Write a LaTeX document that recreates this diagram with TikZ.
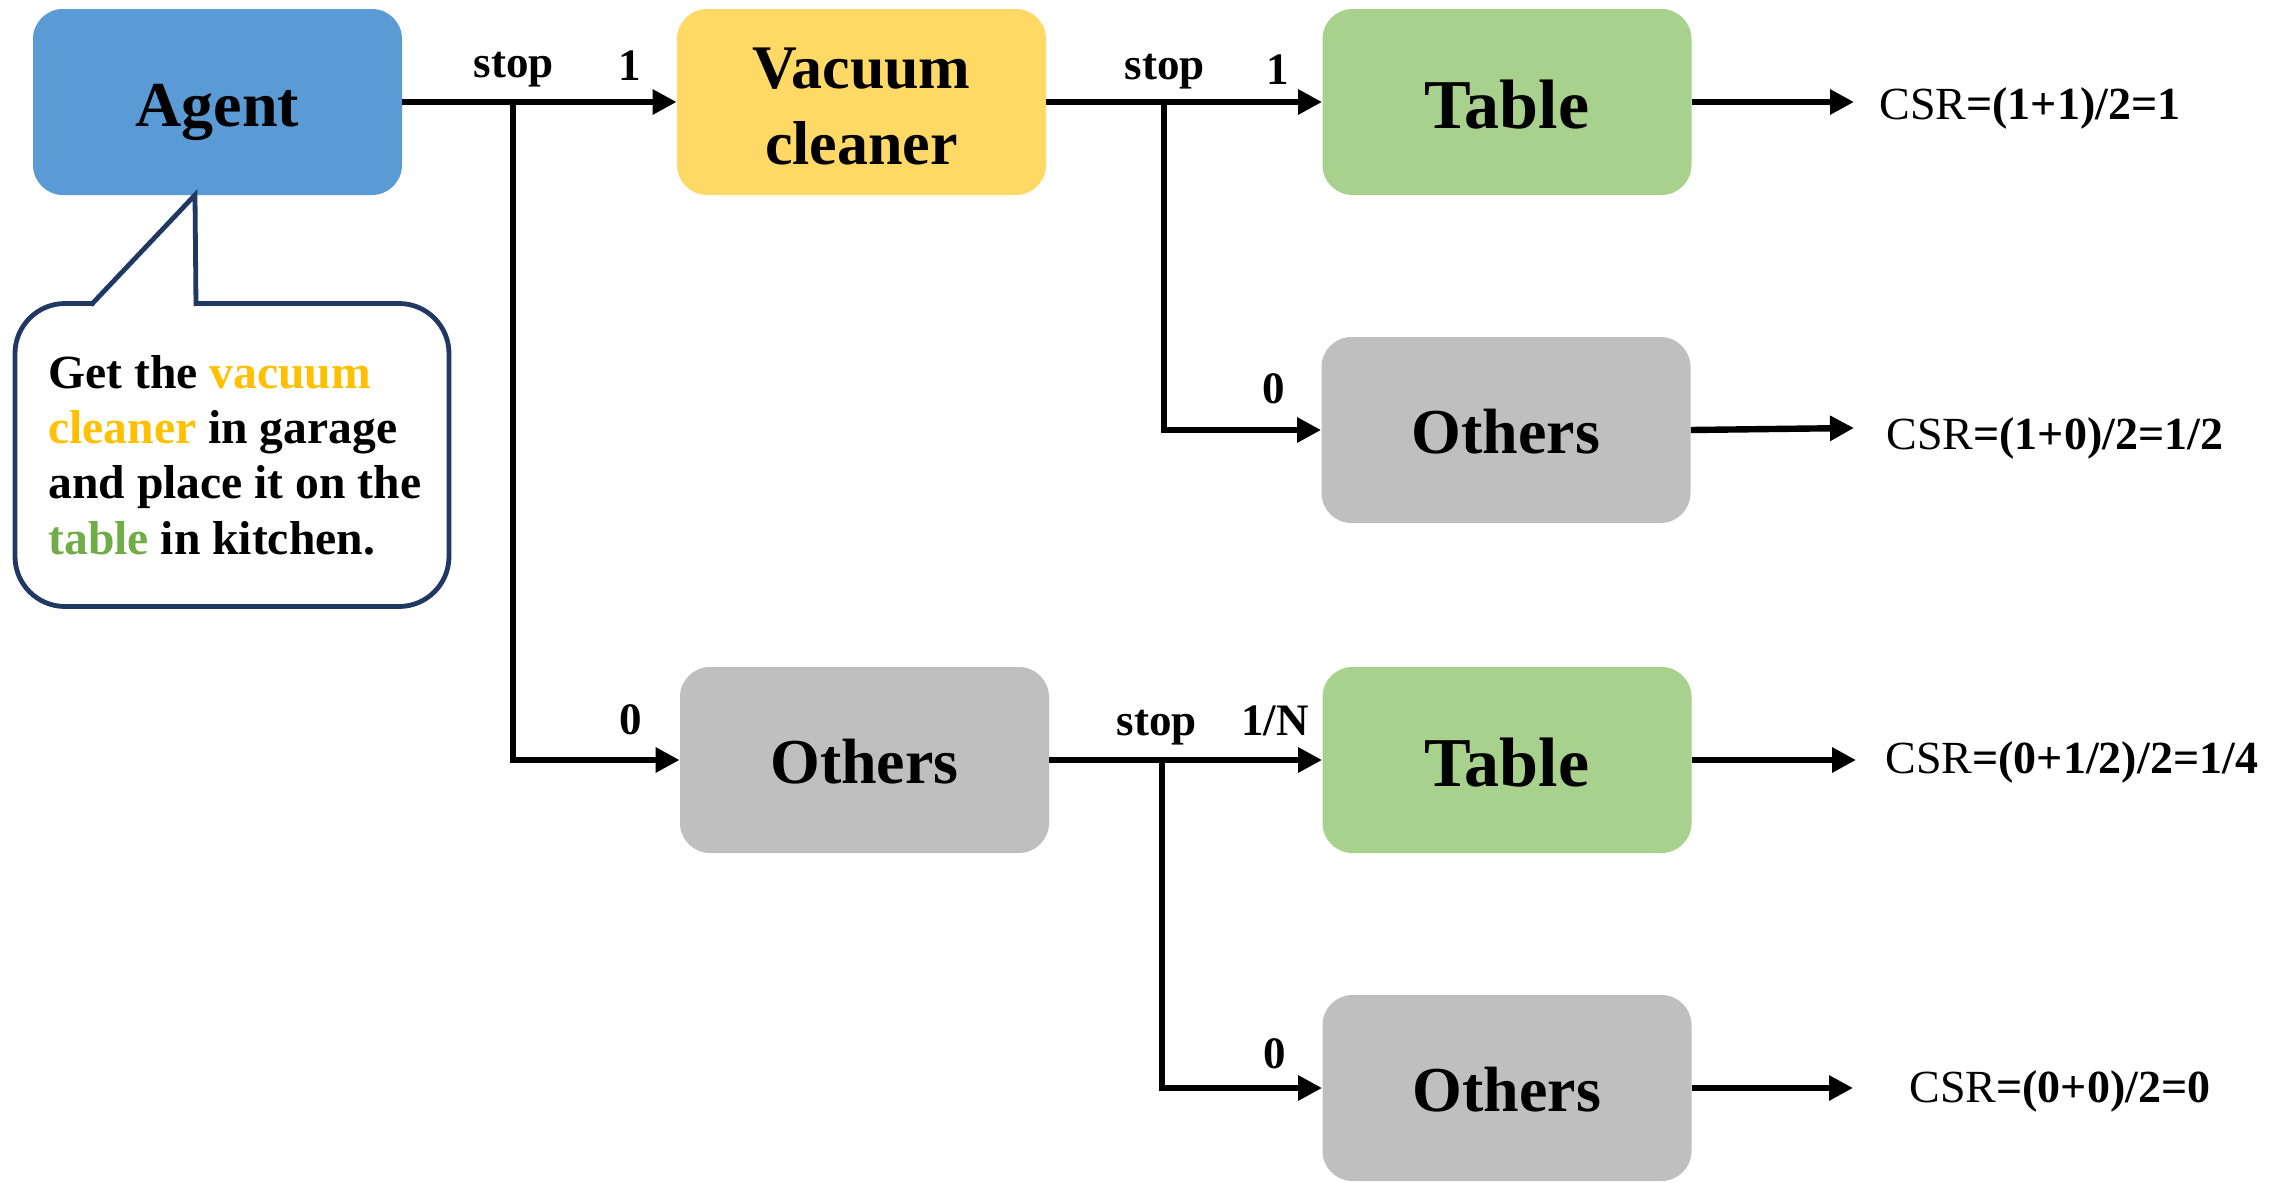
\documentclass[tikz,border=0pt]{standalone}
\usepackage{fontspec}
\setmainfont{Liberation Serif}
\usetikzlibrary{arrows.meta}
\definecolor{agentblue}{HTML}{5B9BD5}
\definecolor{vacyellow}{HTML}{FFD966}
\definecolor{tabgreen}{HTML}{A9D18E}
\definecolor{othgray}{HTML}{BFBFBF}
\definecolor{navy}{HTML}{1F3864}
\definecolor{hlyellow}{HTML}{FFC000}
\definecolor{hlgreen}{HTML}{70AD47}
\begin{document}
\begin{tikzpicture}[x=0.5pt,y=-0.5pt,
  box/.style={rounded corners=15pt, minimum width=184.5pt, minimum height=93pt, inner sep=0pt},
  agentfont/.style={font=\bfseries\fontsize{32}{38}\selectfont, text height=24.5pt, text depth=0pt},
  vacfont/.style={font=\bfseries\fontsize{31}{38}\selectfont},
  tabfont/.style={font=\bfseries\fontsize{35}{40}\selectfont, text height=26.5pt, text depth=0pt},
  othfont/.style={font=\bfseries\fontsize{32}{38}\selectfont, text height=23pt, text depth=0pt},
  conn/.style={line width=3.2pt, -{Triangle[length=12pt,width=12pt]}},
  lab/.style={font=\bfseries\fontsize{22.5}{27}\selectfont, inner sep=0pt, anchor=base},
  csr/.style={font=\fontsize{23}{27}\selectfont, inner sep=0pt, anchor=base west}]
\useasboundingbox (0,0) rectangle (2272,1183);
\fill[white] (0,0) rectangle (2272,1183);

% boxes
\node[box, fill=agentblue, agentfont] (agent) at (217.5,102) {Agent};
\node[box, fill=vacyellow] (vac) at (861.5,102) {};
\node[vacfont, align=center, inner sep=0pt, yshift=-2.5pt] (vactext) at (vac.center) {Vacuum\\cleaner};
\node[box, fill=tabgreen, tabfont] (tab1) at (1507,102) {Table};
\node[box, fill=othgray, othfont] (oth2) at (1506,430) {Others};
\node[box, fill=othgray, othfont] (oth3) at (864.5,760) {Others};
\node[box, fill=tabgreen, tabfont] (tab3) at (1507,760) {Table};
\node[box, fill=othgray, othfont] (oth4) at (1507,1088) {Others};

% callout
\node[draw=navy, line width=2.4pt, rounded corners=25pt, fill=white,
      minimum width=217pt, minimum height=151.5pt, inner sep=0pt] (call) at (232,455) {};
\coordinate (ptip) at (195,195);
\coordinate (pl) at (91,305);
\coordinate (pr) at (196,306);
\fill[white] (94,300) rectangle (194,310);
\draw[navy, line width=2.4pt, line join=miter] (pl) -- (ptip) -- (pr);
\node[anchor=base west, inner sep=0pt, font=\bfseries\fontsize{23.8}{27.7}\selectfont] (ctext) at (48,388)
  {\parbox[t]{215pt}{\raggedright Get the \textcolor{hlyellow}{vacuum}\\
   \textcolor{hlyellow}{cleaner} in garage\\
   and place it on the\\
   \textcolor{hlgreen}{table} in kitchen.}};

% junctions
\coordinate (j1) at (513,102);
\coordinate (j2) at (1164,102);
\coordinate (j3) at (1162,760);

% connectors
\draw[conn] (agent.east) -- (vac.west);
\draw[conn] (j1) |- (oth3.west);
\draw[conn] (vac.east) -- (tab1.west);
\draw[conn] (j2) |- (oth2.west);
\draw[conn] (oth3.east) -- (tab3.west);
\draw[conn] (j3) |- (oth4.west);

% result arrows
\coordinate (e1) at (1854,102);
\coordinate (e2) at (1854,428);
\coordinate (e3) at (1856,760);
\coordinate (e4) at (1853,1088);
\draw[conn] (tab1.east) -- (e1);
\draw[conn] (oth2.east) -- (e2);
\draw[conn] (tab3.east) -- (e3);
\draw[conn] (oth4.east) -- (e4);

% CSR texts
\node[csr] (c1) at (1879,119) {CSR\textbf{=(1+1)/2=1}};
\node[csr] (c2) at (1886,449) {CSR\textbf{=(1+0)/2=1/2}};
\node[csr] (c3) at (1885,773) {CSR\textbf{=(0+1/2)/2=1/4}};
\node[csr] (c4) at (1909,1102) {CSR\textbf{=(0+0)/2=0}};

% labels
\node[lab] (s1) at (514,77) {stop};
\node[lab] (n1) at (630,80) {1};
\node[lab] (z1) at (631,734) {0};
\node[lab] (s2) at (1165,79) {stop};
\node[lab] (n2) at (1278,84) {1};
\node[lab] (z2) at (1274,403) {0};
\node[lab] (s3) at (1157,735) {stop};
\node[lab] (n3) at (1275,735) {1/N};
\node[lab] (z4) at (1275,1068) {0};
\end{tikzpicture}
\end{document}
